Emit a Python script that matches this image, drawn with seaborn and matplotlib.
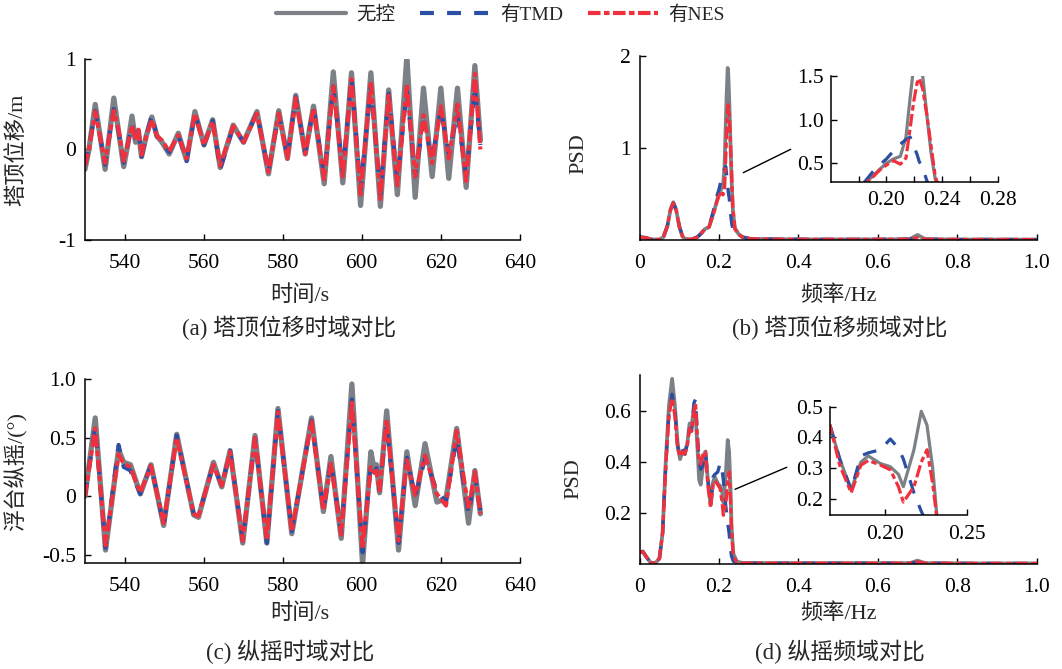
import numpy as np
import matplotlib
matplotlib.use("Agg")
import matplotlib.pyplot as plt
import seaborn as sns
from matplotlib.lines import Line2D

# ---------------- data ----------------
labels = ["无控", "有TMD", "有NES"]

# (a) tower-top displacement, time domain
t_a = [530.0, 531.0, 532.6, 534.0, 535.1, 536.0, 537.3, 538.5, 539.8, 540.8, 541.9, 542.8, 543.5, 544.3,
       545.5, 546.9, 548.2, 549.5, 551.3, 553.6, 555.7, 557.8, 560.1, 562.3, 564.2, 567.5, 569.1, 570.1,
       573.5, 576.4, 579.0, 581.2, 583.3, 585.7, 587.8, 590.5, 592.8, 595.2, 597.4, 599.7, 602.3, 604.7,
       606.8, 609.0, 611.4, 613.5, 615.6, 617.8, 620.0, 622.0, 624.2, 626.4, 628.6, 630.0]
a_none = [-0.22, 0.00, 0.50, 0.10, -0.22, 0.10, 0.57, 0.20, -0.19, 0.05, 0.37, 0.08, 0.21, -0.08,
          0.15, 0.36, 0.15, 0.08, -0.05, 0.18, -0.12, 0.42, 0.05, 0.33, -0.20, 0.27, 0.15, 0.08,
          0.42, -0.27, 0.43, -0.10, 0.60, -0.05, 0.48, -0.38, 0.86, -0.37, 0.85, -0.62, 0.85, -0.63,
          0.66, -0.50, 1.03, -0.53, 0.68, -0.30, 0.68, -0.32, 0.68, -0.42, 0.93, 0.10]
a_tmd = [-0.18, 0.02, 0.43, 0.10, -0.17, 0.10, 0.45, 0.20, -0.15, 0.05, 0.28, 0.10, 0.22, -0.08,
         0.15, 0.38, 0.14, 0.08, -0.03, 0.16, -0.13, 0.40, 0.05, 0.32, -0.22, 0.25, 0.15, 0.08,
         0.41, -0.25, 0.40, -0.08, 0.58, -0.03, 0.47, -0.30, 0.70, -0.25, 0.80, -0.45, 0.72, -0.50,
         0.62, -0.35, 0.65, -0.30, 0.30, -0.10, 0.45, -0.05, 0.40, -0.30, 0.70, 0.05]
a_nes = [-0.18, 0.00, 0.42, 0.10, -0.15, 0.10, 0.43, 0.22, -0.13, 0.05, 0.27, 0.10, 0.22, -0.06,
         0.15, 0.33, 0.15, 0.10, -0.02, 0.16, -0.10, 0.40, 0.05, 0.31, -0.18, 0.26, 0.15, 0.08,
         0.40, -0.25, 0.40, -0.10, 0.57, -0.05, 0.46, -0.33, 0.70, -0.30, 0.78, -0.50, 0.76, -0.55,
         0.60, -0.40, 0.73, -0.30, 0.38, -0.15, 0.48, -0.10, 0.50, -0.35, 0.84, 0.00]

# (b) tower-top displacement PSD
f_b = [0.000, 0.015, 0.030, 0.050, 0.060, 0.070, 0.078, 0.085, 0.092, 0.100, 0.108, 0.115, 0.130, 0.145,
       0.155, 0.165, 0.175, 0.185, 0.190, 0.195, 0.200, 0.205, 0.210, 0.214, 0.217, 0.2195, 0.222, 0.2235,
       0.226, 0.229, 0.232, 0.235, 0.240, 0.250, 0.260, 0.280, 0.350, 0.450, 0.550, 0.650, 0.680, 0.700,
       0.720, 0.800, 0.900, 1.000]
b_none = [0.030, 0.025, 0.005, 0.005, 0.030, 0.150, 0.330, 0.410, 0.330, 0.150, 0.040, 0.010, 0.005, 0.030,
          0.070, 0.120, 0.140, 0.280, 0.350, 0.430, 0.500, 0.550, 0.580, 0.800, 1.250, 1.600, 1.870, 1.800,
          1.500, 1.050, 0.620, 0.320, 0.130, 0.060, 0.030, 0.012, 0.008, 0.006, 0.006, 0.007, 0.008, 0.055,
          0.008, 0.005, 0.005, 0.004]
b_tmd = [0.030, 0.025, 0.005, 0.005, 0.030, 0.150, 0.330, 0.400, 0.330, 0.150, 0.040, 0.010, 0.005, 0.030,
         0.070, 0.120, 0.150, 0.300, 0.400, 0.480, 0.550, 0.640, 0.720, 0.770, 0.800, 0.700, 0.600, 0.520,
         0.450, 0.300, 0.180, 0.120, 0.080, 0.050, 0.030, 0.012, 0.008, 0.006, 0.006, 0.007, 0.008, 0.020,
         0.008, 0.005, 0.005, 0.004]
b_nes = [0.030, 0.025, 0.005, 0.005, 0.030, 0.150, 0.330, 0.400, 0.330, 0.150, 0.040, 0.010, 0.005, 0.030,
         0.070, 0.120, 0.140, 0.270, 0.340, 0.420, 0.480, 0.530, 0.490, 0.560, 0.900, 1.200, 1.420, 1.470,
         1.350, 1.050, 0.700, 0.350, 0.120, 0.060, 0.030, 0.012, 0.008, 0.006, 0.006, 0.007, 0.008, 0.025,
         0.008, 0.005, 0.005, 0.004]

# (c) platform pitch, time domain
t_c = [530.0, 532.6, 535.2, 538.5, 539.8, 541.5, 542.7, 544.0, 546.7, 549.9, 553.2, 557.5, 558.7, 562.5,
       564.6, 566.7, 569.9, 573.0, 576.0, 578.8, 582.3, 587.3, 590.3, 592.2, 594.8, 597.5, 600.2, 602.3,
       603.2, 603.7, 604.5, 606.3, 609.3, 611.4, 613.5, 616.0, 619.0, 621.3, 624.0, 627.0, 628.6, 630.0]
c_none = [0.00, 0.67, -0.46, 0.40, 0.29, 0.27, 0.15, 0.02, 0.27, -0.25, 0.53, -0.16, -0.18, 0.29,
          0.08, 0.39, -0.40, 0.52, -0.40, 0.75, -0.32, 0.67, -0.13, 0.34, -0.36, 0.96, -0.58, 0.38,
          0.22, 0.27, 0.03, 0.73, -0.46, 0.38, -0.08, 0.45, -0.05, -0.02, 0.58, -0.23, 0.22, -0.15]
c_tmd = [0.00, 0.60, -0.44, 0.44, 0.25, 0.22, 0.12, 0.02, 0.27, -0.25, 0.52, -0.15, -0.17, 0.28,
         0.08, 0.39, -0.38, 0.50, -0.40, 0.73, -0.30, 0.65, -0.12, 0.30, -0.32, 0.83, -0.48, 0.28,
         0.20, 0.24, 0.05, 0.62, -0.40, 0.33, 0.00, 0.32, 0.05, -0.05, 0.50, -0.15, 0.18, -0.12]
c_nes = [0.00, 0.58, -0.42, 0.36, 0.28, 0.25, 0.14, 0.03, 0.26, -0.23, 0.50, -0.15, -0.17, 0.27,
         0.09, 0.38, -0.38, 0.50, -0.38, 0.72, -0.30, 0.64, -0.12, 0.28, -0.33, 0.80, -0.45, 0.25,
         0.20, 0.22, 0.05, 0.66, -0.38, 0.31, 0.01, 0.35, 0.02, -0.08, 0.56, -0.11, 0.21, -0.15]

# (d) platform pitch PSD
f_d = [0.000, 0.008, 0.018, 0.028, 0.040, 0.050, 0.058, 0.066, 0.074, 0.082, 0.089, 0.096, 0.102, 0.108,
       0.114, 0.120, 0.126, 0.131, 0.137, 0.141, 0.146, 0.150, 0.154, 0.158, 0.163, 0.166, 0.172, 0.179,
       0.185, 0.1895, 0.197, 0.203, 0.208, 0.211, 0.2175, 0.222, 0.2255, 0.229, 0.2315, 0.236, 0.245,
       0.260, 0.350, 0.500, 0.650, 0.680, 0.700, 0.720, 0.850, 1.000]
d_none = [0.045, 0.048, 0.025, 0.004, 0.003, 0.020, 0.120, 0.400, 0.620, 0.725, 0.620, 0.470, 0.410, 0.440,
          0.430, 0.470, 0.550, 0.540, 0.610, 0.580, 0.450, 0.330, 0.310, 0.360, 0.430, 0.440, 0.330, 0.230,
          0.320, 0.340, 0.315, 0.305, 0.280, 0.240, 0.360, 0.485, 0.440, 0.300, 0.150, 0.040, 0.008,
          0.003, 0.002, 0.002, 0.002, 0.002, 0.012, 0.002, 0.001, 0.001]
d_tmd = [0.045, 0.048, 0.025, 0.004, 0.003, 0.020, 0.120, 0.390, 0.590, 0.665, 0.600, 0.460, 0.420, 0.450,
         0.430, 0.470, 0.530, 0.520, 0.630, 0.645, 0.500, 0.400, 0.370, 0.380, 0.420, 0.440, 0.330, 0.230,
         0.340, 0.350, 0.360, 0.395, 0.365, 0.330, 0.220, 0.160, 0.120, 0.060, 0.030, 0.010, 0.004,
         0.002, 0.002, 0.002, 0.002, 0.002, 0.006, 0.002, 0.001, 0.001]
d_nes = [0.045, 0.048, 0.025, 0.004, 0.003, 0.020, 0.120, 0.380, 0.580, 0.650, 0.580, 0.450, 0.420, 0.440,
         0.430, 0.460, 0.530, 0.520, 0.600, 0.630, 0.480, 0.400, 0.390, 0.420, 0.440, 0.440, 0.310, 0.220,
         0.310, 0.325, 0.310, 0.295, 0.240, 0.190, 0.240, 0.320, 0.360, 0.250, 0.140, 0.030, 0.006,
         0.002, 0.002, 0.002, 0.002, 0.002, 0.007, 0.002, 0.001, 0.001]

# ---------------- style ----------------
sns.set_theme(style="ticks")
plt.rcParams["font.family"] = ["Liberation Serif", "Noto Sans CJK SC"]
plt.rcParams["axes.unicode_minus"] = False
plt.rcParams["lines.scale_dashes"] = False

C_NONE = "#7b8186"
C_TMD = "#2b4fa3"
C_NES = "#f0313d"
DASH_TMD = [10.0, 9.0]
DASH_NES = [9.0, 2.5, 4.0, 2.5]
TICK_FS = 15.5
LAB_FS = 16

fig = plt.figure(figsize=(10.62, 6.69), dpi=100)


def style_axes(ax, xpad=10, ypad=6.5):
    for s in ["top", "right"]:
        ax.spines[s].set_visible(False)
    for s in ["left", "bottom"]:
        ax.spines[s].set_color("black")
        ax.spines[s].set_linewidth(1.1)
    ax.tick_params(direction="in", length=4, width=1.0, colors="black",
                   labelsize=TICK_FS)
    ax.tick_params(axis="x", pad=xpad)
    ax.tick_params(axis="y", pad=ypad)
    ax.grid(False)
    ax.set_facecolor("white")


def draw_three(ax, x, y0, y1, y2, lw0, lw1):
    sns.lineplot(x=x, y=y0, ax=ax, color=C_NONE, linewidth=lw0, sort=False,
                 estimator=None, errorbar=None, solid_joinstyle="round")
    sns.lineplot(x=x, y=y1, ax=ax, color=C_TMD, linewidth=lw1, sort=False,
                 estimator=None, errorbar=None)
    ax.lines[-1].set_dashes(DASH_TMD)
    ax.lines[-1].set_dash_joinstyle("round")
    sns.lineplot(x=x, y=y2, ax=ax, color=C_NES, linewidth=lw1, sort=False,
                 estimator=None, errorbar=None)
    ax.lines[-1].set_dashes(DASH_NES)
    ax.lines[-1].set_dash_joinstyle("round")


# ---------- (a) ----------
ax_a = fig.add_axes([0.080, 0.6417, 0.4096, 0.2697])
draw_three(ax_a, t_a, a_none, a_tmd, a_nes, 3.8, 2.9)
style_axes(ax_a)
ax_a.set_xlim(530, 640)
ax_a.set_ylim(-1, 1)
ax_a.set_xticks([540, 560, 580, 600, 620, 640])
ax_a.set_yticks([-1, 0, 1])
ax_a.set_yticklabels(["-1", "0", "1"])
ax_a.set_xlabel("时间/s", fontsize=LAB_FS)
ax_a.set_ylabel("塔顶位移/m", fontsize=LAB_FS)
ax_a.xaxis.set_label_coords(0.494, -0.25)
ax_a.yaxis.set_label_coords(-0.133, 0.5)

# ---------- (c) ----------
ax_c = fig.add_axes([0.080, 0.1589, 0.4096, 0.2741])
draw_three(ax_c, t_c, c_none, c_tmd, c_nes, 3.8, 2.9)
style_axes(ax_c)
ax_c.set_xlim(530, 640)
ax_c.set_ylim(-0.568, 1.0)
ax_c.set_xticks([540, 560, 580, 600, 620, 640])
ax_c.set_yticks([-0.5, 0, 0.5, 1.0])
ax_c.set_yticklabels(["-0.5", "0", "0.5", "1.0"])
ax_c.set_xlabel("时间/s", fontsize=LAB_FS)
ax_c.set_ylabel("浮台纵摇/(°)", fontsize=LAB_FS)
ax_c.xaxis.set_label_coords(0.494, -0.222)
ax_c.yaxis.set_label_coords(-0.131, 0.5)

# ---------- (b) ----------
ax_b = fig.add_axes([0.6022, 0.6413, 0.374, 0.275])
draw_three(ax_b, f_b, b_none, b_tmd, b_nes, 2.7, 2.4)
style_axes(ax_b)
ax_b.set_xlim(0, 1.0)
ax_b.set_ylim(0, 2)
ax_b.set_xticks([0, 0.2, 0.4, 0.6, 0.8, 1.0])
ax_b.set_xticklabels(["0", "0.2", "0.4", "0.6", "0.8", "1.0"])
ax_b.set_yticks([1, 2])
ax_b.set_yticklabels(["1", "2"])
ax_b.set_xlabel("频率/Hz", fontsize=LAB_FS)
ax_b.set_ylabel("PSD", fontsize=LAB_FS)
ax_b.xaxis.set_label_coords(0.5, -0.245)
ax_b.yaxis.set_label_coords(-0.13, 0.467)

ins_b = fig.add_axes([0.7822, 0.7284, 0.1575, 0.1584])
draw_three(ins_b, f_b, b_none, b_tmd, b_nes, 2.3, 2.3)
style_axes(ins_b, xpad=7, ypad=5)
ins_b.set_xlim(0.16, 0.28)
ins_b.set_ylim(0.29, 1.5)
ins_b.set_xticks([0.18, 0.20, 0.22, 0.24, 0.26, 0.28])
ins_b.set_xticklabels(["", "0.20", "", "0.24", "", "0.28"])
ins_b.set_yticks([0.5, 1.0, 1.5])
ins_b.set_yticklabels(["0.5", "1.0", "1.5"])
ins_b.set_xlabel("")
ins_b.set_ylabel("")

# ---------- (d) ----------
ax_d = fig.add_axes([0.6022, 0.1574, 0.374, 0.282])
draw_three(ax_d, f_d, d_none, d_tmd, d_nes, 2.7, 2.4)
style_axes(ax_d)
ax_d.set_xlim(0, 1.0)
ax_d.set_ylim(0, 0.74)
ax_d.set_xticks([0, 0.2, 0.4, 0.6, 0.8, 1.0])
ax_d.set_xticklabels(["0", "0.2", "0.4", "0.6", "0.8", "1.0"])
ax_d.set_yticks([0.2, 0.4, 0.6])
ax_d.set_yticklabels(["0.2", "0.4", "0.6"])
ax_d.set_xlabel("频率/Hz", fontsize=LAB_FS)
ax_d.set_ylabel("PSD", fontsize=LAB_FS)
ax_d.xaxis.set_label_coords(0.5, -0.208)
ax_d.yaxis.set_label_coords(-0.142, 0.45)

ins_d = fig.add_axes([0.7815, 0.2302, 0.129, 0.1619])
draw_three(ins_d, f_d, d_none, d_tmd, d_nes, 2.3, 2.3)
style_axes(ins_d, xpad=7, ypad=5)
ins_d.set_xlim(0.166, 0.25)
ins_d.set_ylim(0.148, 0.5)
ins_d.set_xticks([0.20, 0.25])
ins_d.set_xticklabels(["0.20", "0.25"])
ins_d.set_yticks([0.2, 0.3, 0.4, 0.5])
ins_d.set_yticklabels(["0.2", "0.3", "0.4", "0.5"])
ins_d.set_xlabel("")
ins_d.set_ylabel("")

# connector lines
fig.add_artist(Line2D([0.6999, 0.7445], [0.7419, 0.7768], transform=fig.transFigure,
                      color="black", linewidth=1.0))
fig.add_artist(Line2D([0.6921, 0.7408], [0.2686, 0.3015], transform=fig.transFigure,
                      color="black", linewidth=1.0))

# captions
cap_fs = 16.5
fig.text(0.272, 0.510, "(a) 塔顶位移时域对比", ha="center", va="center", fontsize=cap_fs)
fig.text(0.791, 0.510, "(b) 塔顶位移频域对比", ha="center", va="center", fontsize=cap_fs)
fig.text(0.273, 0.025, "(c) 纵摇时域对比", ha="center", va="center", fontsize=cap_fs)
fig.text(0.791, 0.025, "(d) 纵摇频域对比", ha="center", va="center", fontsize=cap_fs)

# legend
h0 = Line2D([], [], color=C_NONE, linewidth=3.0)
h1 = Line2D([], [], color=C_TMD, linewidth=3.0, dashes=[10.0, 9.5])
h2 = Line2D([], [], color=C_NES, linewidth=3.0, dashes=[9.0, 2.5, 4.0, 2.5])
fig.legend([h0, h1, h2], labels, loc="center", bbox_to_anchor=(0.471, 0.978), ncol=3,
           frameon=False, fontsize=14, handlelength=3.6, columnspacing=1.3, handletextpad=0.5)

fig.savefig("out.png", dpi=100, facecolor="white")
